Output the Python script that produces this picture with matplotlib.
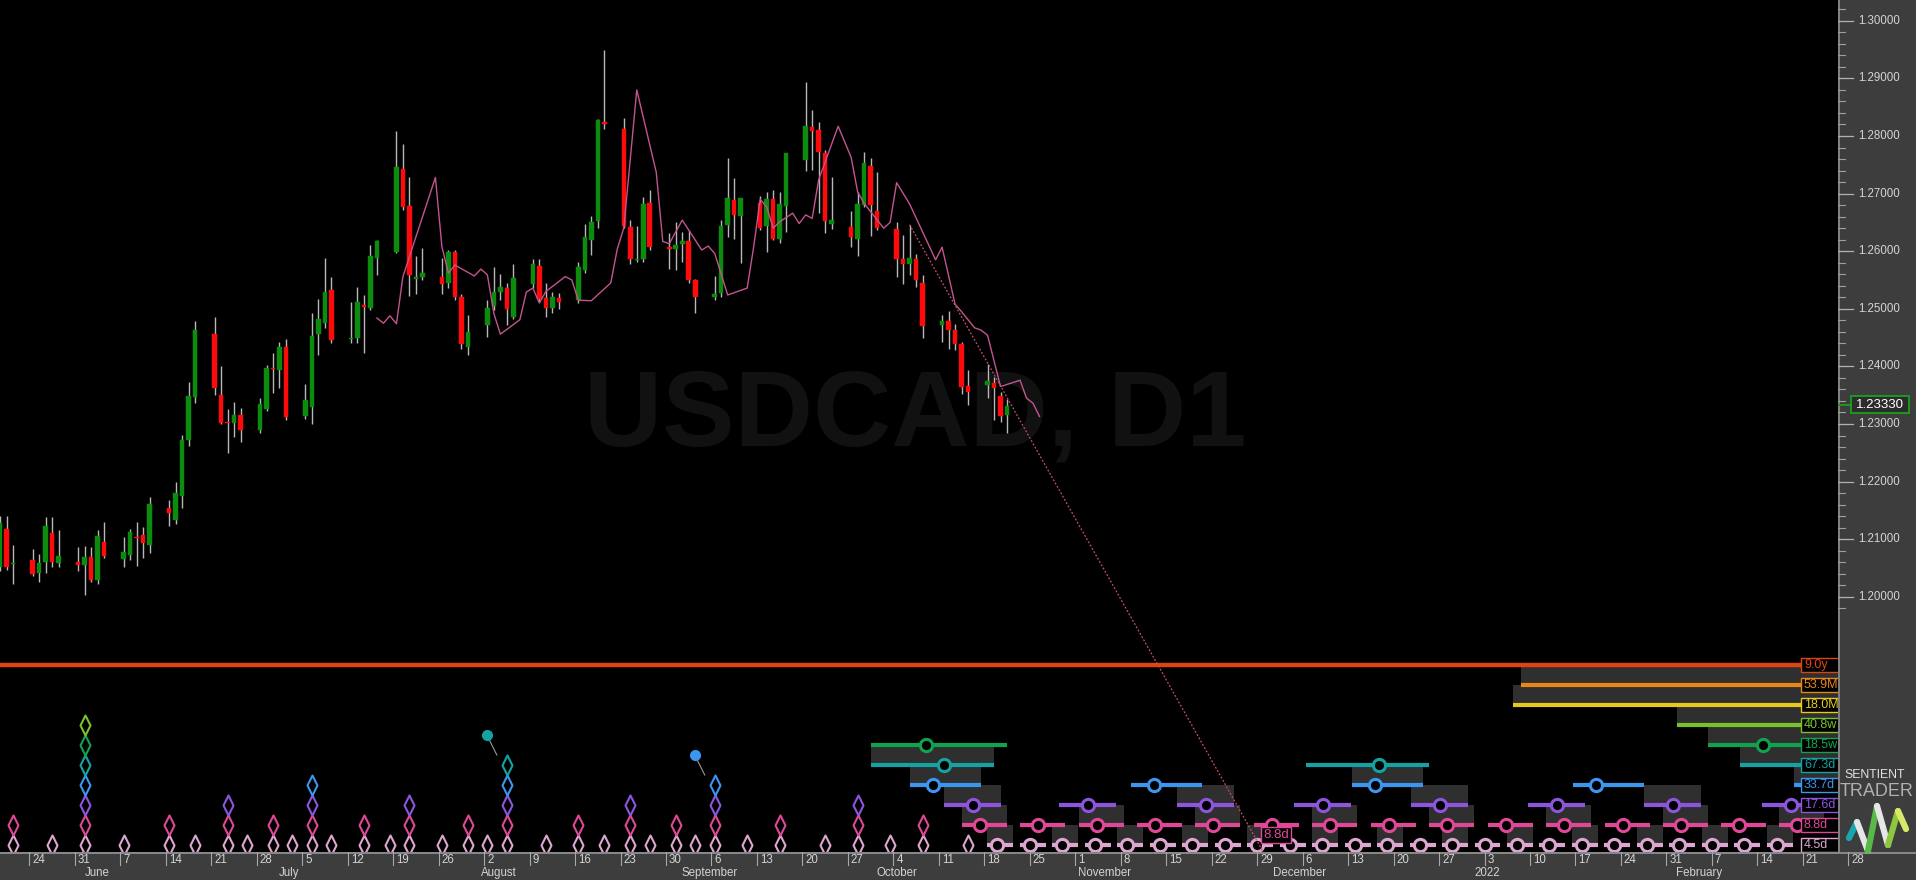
import numpy as np
import pandas as pd
import matplotlib
matplotlib.use("Agg")
import matplotlib.pyplot as plt
import matplotlib.dates as mdates
from matplotlib.patches import Rectangle
from matplotlib.path import Path
from matplotlib import font_manager

plt.rcParams['font.family'] = ['Liberation Sans', 'DejaVu Sans']

# ------------------------------------------------------------------ data
first_bar = "2021-05-19"          # daily bars, Mon-Fri
opens = [
    1.2052, 1.2117, 1.2057,
    1.2064, 1.2042, 1.2061, 1.2111, 1.2058,
    1.2061, 1.2055, 1.2069, 1.2029, 1.2096,
    1.2065, 1.2073, 1.2103, 1.2107, 1.2090,
    1.2155, 1.2133, 1.2175, 1.2272, 1.2347,
    1.2456, 1.2350, 1.2303, 1.2301, 1.2316,
    1.2290, 1.2326, 1.2396, 1.2394, 1.2433,
    1.2314, 1.2330, 1.2456, 1.2475, 1.2533,
    1.2447, 1.2449, 1.2507, 1.2501, 1.2588,
    1.2599, 1.2742, 1.2679, 1.2551, 1.2556,
    1.2555, 1.2544, 1.2599, 1.2520, 1.2434,
    1.2472, 1.2504, 1.2530, 1.2536, 1.2485,
    1.2543, 1.2574, 1.2518, 1.2501, 1.2518,
    1.2515, 1.2567, 1.2619, 1.2653, 1.2825,
    1.2812, 1.2642, 1.2585, 1.2586, 1.2684,
    1.2608, 1.2603, 1.2613, 1.2617, 1.2550,
    1.2520, 1.2527, 1.2646, 1.2689, 1.2661,
    1.2683, 1.2644, 1.2690, 1.2622, 1.2679,
    1.2758, 1.2816, 1.2810, 1.2770, 1.2648,
    1.2642, 1.2622, 1.2680, 1.2748, 1.2670,
    1.2638, 1.2586, 1.2578, 1.2586, 1.2544,
    1.2472, 1.2479, 1.2464, 1.2439, 1.2366,
    1.2368, 1.2372, 1.2349, 1.2316,
]
highs = [
    1.2140, 1.2140, 1.2090,
    1.2083, 1.2074, 1.2139, 1.2138, 1.2116,
    1.2087, 1.2088, 1.2087, 1.2116, 1.2129,
    1.2103, 1.2117, 1.2129, 1.2122, 1.2174,
    1.2168, 1.2200, 1.2281, 1.2373, 1.2478,
    1.2485, 1.2400, 1.2326, 1.2339, 1.2327,
    1.2345, 1.2402, 1.2423, 1.2443, 1.2447,
    1.2369, 1.2492, 1.2517, 1.2588, 1.2555,
    1.2512, 1.2537, 1.2524, 1.2611, 1.2619,
    1.2808, 1.2786, 1.2729, 1.2592, 1.2605,
    1.2588, 1.2602, 1.2602, 1.2526, 1.2489,
    1.2515, 1.2573, 1.2560, 1.2545, 1.2578,
    1.2586, 1.2586, 1.2545, 1.2530, 1.2527,
    1.2582, 1.2647, 1.2661, 1.2829, 1.2949,
    1.2831, 1.2655, 1.2643, 1.2694, 1.2706,
    1.2632, 1.2651, 1.2634, 1.2636, 1.2551,
    1.2557, 1.2654, 1.2761, 1.2727, 1.2693,
    1.2695, 1.2703, 1.2706, 1.2703, 1.2771,
    1.2894, 1.2846, 1.2825, 1.2776, 1.2729,
    1.2670, 1.2703, 1.2773, 1.2761, 1.2738,
    1.2651, 1.2628, 1.2646, 1.2596, 1.2559,
    1.2489, 1.2497, 1.2474, 1.2443, 1.2394,
    1.2405, 1.2382, 1.2356, 1.2343,
]
lows = [
    1.2045, 1.2047, 1.2023,
    1.2036, 1.2026, 1.2041, 1.2052, 1.2052,
    1.2044, 1.2003, 1.2026, 1.2023, 1.2067,
    1.2052, 1.2064, 1.2054, 1.2067, 1.2076,
    1.2123, 1.2126, 1.2154, 1.2261, 1.2336,
    1.2350, 1.2300, 1.2249, 1.2278, 1.2269,
    1.2284, 1.2323, 1.2353, 1.2362, 1.2307,
    1.2308, 1.2300, 1.2420, 1.2466, 1.2440,
    1.2440, 1.2440, 1.2423, 1.2498, 1.2559,
    1.2597, 1.2672, 1.2522, 1.2526, 1.2550,
    1.2526, 1.2536, 1.2515, 1.2431, 1.2420,
    1.2451, 1.2498, 1.2515, 1.2472, 1.2482,
    1.2536, 1.2512, 1.2486, 1.2492, 1.2499,
    1.2510, 1.2562, 1.2593, 1.2640, 1.2813,
    1.2640, 1.2578, 1.2582, 1.2582, 1.2602,
    1.2569, 1.2567, 1.2582, 1.2545, 1.2492,
    1.2515, 1.2521, 1.2625, 1.2621, 1.2580,
    1.2637, 1.2599, 1.2619, 1.2614, 1.2634,
    1.2740, 1.2741, 1.2666, 1.2631, 1.2638,
    1.2608, 1.2592, 1.2677, 1.2626, 1.2636,
    1.2555, 1.2543, 1.2559, 1.2537, 1.2449,
    1.2443, 1.2431, 1.2429, 1.2352, 1.2333,
    1.2345, 1.2307, 1.2304, 1.2285,
]
closes = [
    1.2128, 1.2052, 1.2059,
    1.2040, 1.2059, 1.2123, 1.2061, 1.2071,
    1.2055, 1.2069, 1.2029, 1.2106, 1.2070,
    1.2078, 1.2113, 1.2102, 1.2093, 1.2161,
    1.2145, 1.2181, 1.2273, 1.2349, 1.2463,
    1.2362, 1.2302, 1.2301, 1.2316, 1.2290,
    1.2335, 1.2398, 1.2395, 1.2434, 1.2312,
    1.2342, 1.2453, 1.2482, 1.2530, 1.2446,
    1.2449, 1.2512, 1.2503, 1.2591, 1.2617,
    1.2746, 1.2677, 1.2559, 1.2556, 1.2562,
    1.2543, 1.2599, 1.2520, 1.2439, 1.2460,
    1.2501, 1.2530, 1.2538, 1.2499, 1.2553,
    1.2578, 1.2517, 1.2501, 1.2520, 1.2512,
    1.2573, 1.2624, 1.2651, 1.2827, 1.2821,
    1.2644, 1.2586, 1.2587, 1.2682, 1.2608,
    1.2603, 1.2611, 1.2617, 1.2550, 1.2520,
    1.2526, 1.2644, 1.2692, 1.2663, 1.2692,
    1.2640, 1.2690, 1.2622, 1.2682, 1.2770,
    1.2817, 1.2809, 1.2773, 1.2653, 1.2654,
    1.2625, 1.2682, 1.2753, 1.2680, 1.2640,
    1.2586, 1.2578, 1.2588, 1.2550, 1.2470,
    1.2478, 1.2464, 1.2439, 1.2365, 1.2356,
    1.2375, 1.2362, 1.2314, 1.2331,
]

fld_dates = ["2021-07-16", "2021-07-17", "2021-07-18", "2021-07-19", "2021-07-20",
             "2021-07-25", "2021-07-26", "2021-07-27", "2021-07-28", "2021-07-31",
             "2021-08-01", "2021-08-02", "2021-08-03", "2021-08-04", "2021-08-07",
             "2021-08-08", "2021-08-09", "2021-08-10", "2021-08-11", "2021-08-14",
             "2021-08-15", "2021-08-16", "2021-08-18", "2021-08-21", "2021-08-22",
             "2021-08-23", "2021-08-25", "2021-08-28", "2021-08-29", "2021-08-30",
             "2021-09-01", "2021-09-04", "2021-09-05", "2021-09-06", "2021-09-08",
             "2021-09-11", "2021-09-12", "2021-09-13", "2021-09-14", "2021-09-15",
             "2021-09-16", "2021-09-18", "2021-09-19", "2021-09-20", "2021-09-21",
             "2021-09-22", "2021-09-25", "2021-09-27", "2021-09-28", "2021-09-29",
             "2021-10-02", "2021-10-03", "2021-10-04", "2021-10-06", "2021-10-10",
             "2021-10-11", "2021-10-13", "2021-10-14", "2021-10-16", "2021-10-17",
             "2021-10-18", "2021-10-20", "2021-10-23", "2021-10-24", "2021-10-25",
             "2021-10-26"]
fld_values = [1.2484, 1.2475, 1.2488, 1.2474, 1.2556, 1.2728, 1.2608, 1.2562, 1.2576, 1.2557,
              1.2569, 1.2559, 1.2492, 1.2456, 1.2481, 1.2529, 1.2536, 1.2510, 1.2530, 1.2556,
              1.2550, 1.2515, 1.2514, 1.2545, 1.2604, 1.2640, 1.2880, 1.2737, 1.2617, 1.2613,
              1.2654, 1.2602, 1.2609, 1.2596, 1.2524, 1.2536, 1.2608, 1.2690, 1.2677, 1.2640,
              1.2651, 1.2666, 1.2648, 1.2663, 1.2657, 1.2724, 1.2817, 1.2763, 1.2703, 1.2683,
              1.2640, 1.2650, 1.2719, 1.2682, 1.2585, 1.2607, 1.2508, 1.2495, 1.2467, 1.2463,
              1.2454, 1.2365, 1.2376, 1.2345, 1.2336, 1.2313]

trend_dates = ["2021-10-06 12:00", "2021-12-01 12:00"]
trend_values = [1.2646, 1.1526]

last_price = 1.23330
price_ticks = [1.20, 1.21, 1.22, 1.23, 1.24, 1.25, 1.26, 1.27, 1.28, 1.29, 1.30]

# cycles (row 0 = shortest)
cycle_labels = ["4.5d", "8.8d", "17.6d", "33.7d", "67.3d", "18.5w", "40.8w", "18.0M", "53.9M", "9.0y"]
cycle_colors = ["#dca6cf", "#de4897", "#8d55de", "#3a96f0", "#13a3a3", "#12a24e",
                "#79c12a", "#e6c91f", "#e8861a", "#dc4414"]

trough_dates = ["2021-05-21", "2021-05-27", "2021-06-01", "2021-06-07", "2021-06-14", "2021-06-18",
                "2021-06-23", "2021-06-26", "2021-06-30", "2021-07-03", "2021-07-06", "2021-07-09",
                "2021-07-14", "2021-07-18", "2021-07-21", "2021-07-26", "2021-07-30", "2021-08-02",
                "2021-08-05", "2021-08-11", "2021-08-16", "2021-08-20", "2021-08-24", "2021-08-27",
                "2021-08-31", "2021-09-03", "2021-09-06", "2021-09-11", "2021-09-16", "2021-09-23",
                "2021-09-28", "2021-10-03", "2021-10-08", "2021-10-15"]
trough_levels = [2, 1, 7, 1, 2, 1, 3, 1, 2, 1, 4, 1, 2, 1, 3, 1, 2, 1, 5, 1, 2, 1, 3, 1,
                 2, 1, 4, 1, 2, 1, 3, 1, 2, 1]
peak_dot_troughs = ["2021-08-05", "2021-09-06"]

ring_dates = {
    0: ["2021-10-20", "2021-10-25", "2021-10-30", "2021-11-04", "2021-11-09", "2021-11-14",
        "2021-11-19", "2021-11-24", "2021-11-29", "2021-12-04", "2021-12-09", "2021-12-14",
        "2021-12-19", "2021-12-24", "2021-12-29", "2022-01-03", "2022-01-08", "2022-01-13",
        "2022-01-18", "2022-01-23", "2022-01-28", "2022-02-02", "2022-02-07", "2022-02-12",
        "2022-02-17"],
    1: ["2021-10-17 08:00", "2021-10-26 07:00", "2021-11-04 07:00", "2021-11-13 07:00",
        "2021-11-22 06:00", "2021-12-01 06:00", "2021-12-10 05:00", "2021-12-19 08:00",
        "2021-12-28 06:00", "2022-01-06 06:00", "2022-01-15 07:00", "2022-01-24 09:00",
        "2022-02-02 06:00", "2022-02-11 05:00", "2022-02-20 04:00"],
    2: ["2021-10-16 05:00", "2021-11-03 00:00", "2021-11-21 03:00", "2021-12-09 02:00",
        "2021-12-27 04:00", "2022-01-14 03:00", "2022-02-01 01:00", "2022-02-19 03:00"],
    3: ["2021-10-10 04:00", "2021-11-13 03:00", "2021-12-17 03:00", "2022-01-20 04:00",
        "2022-02-23 04:00"],
    4: ["2021-10-11 20:00", "2021-12-17 19:00", "2022-02-22 17:00"],
    5: ["2021-10-09 00:00", "2022-02-14 22:00"],
}
ring_boxes = {
    0: [True, False] * 12 + [True],
    1: [True, False] * 7 + [True],
    2: [True, False] * 4,
    3: [True, False, True, False, True],
    4: [True, False, True],
    5: [False, True],
}
band_before = [1.54, 2.77, 4.46, 3.54, 11.33, 8.51]   # days before projected trough
band_after = [2.46, 4.16, 4.31, 7.39, 7.70, 12.52]    # days after projected trough
long_cycle_starts = {6: "2022-02-01 14:00", 7: "2022-01-07 10:00", 8: "2022-01-08 14:00"}
hover_text, hover_date = "8.8d", "2021-12-01 21:00"

month_starts = ["2021-06-01", "2021-07-01", "2021-08-01", "2021-09-01", "2021-10-01",
                "2021-11-01", "2021-12-01", "2022-01-01", "2022-02-01"]
month_names = ["June", "July", "August", "September", "October", "November", "December",
               "2022", "February"]
week_starts = pd.date_range("2021-05-24", "2022-02-28", freq="W-MON")

# ------------------------------------------------------------------ layout
W, H = 1916, 880
PLOT_H, STRIP_H = 852, 28
PX_PER_DAY = 6.496
ORIGIN_PX = 29.4                   # px of 2021-05-24 00:00
PX_PER_PRICE = 5760.0
REF_PRICE, REF_PX = 1.23, 424.0
ROW_PX = 20.0
ROW0_PX = 845.0
BG = "black"
PANEL = "#3d3d3d"
BOXC = "#2f2f2f"
TXT = "#d4d4d4"

names = {f.name for f in font_manager.fontManager.ttflist}
narrow = "Liberation Sans Narrow" if "Liberation Sans Narrow" in names else "Liberation Sans"


def xd(v):
    return mdates.date2num(pd.to_datetime(v))


x_left = xd("2021-05-24") - ORIGIN_PX / PX_PER_DAY
x_right = x_left + W / PX_PER_DAY
y_top = REF_PRICE + REF_PX / PX_PER_PRICE
y_bot = REF_PRICE - (PLOT_H - REF_PX) / PX_PER_PRICE
row_bot = -(PLOT_H - ROW0_PX) / ROW_PX
row_top = row_bot + PLOT_H / ROW_PX

fig = plt.figure(figsize=(W / 100, H / 100), dpi=100, facecolor=BG)
rect = [0, STRIP_H / H, 1, PLOT_H / H]


def clean(a):
    for s in a.spines.values():
        s.set_visible(False)
    a.set_xticks([])
    a.set_yticks([])


ax = fig.add_axes(rect, zorder=0)
ax.set_facecolor(BG)
clean(ax)
ax.set_xlim(x_left, x_right)
ax.set_ylim(y_bot, y_top)

# watermark
ax.text(915 / W, 1 - 417 / PLOT_H, "USDCAD, D1", transform=ax.transAxes, ha="center",
        va="center", fontsize=78, fontweight="bold", color="#111111", zorder=0.5,
        family=["Liberation Sans", "DejaVu Sans"])

# candles
dates = pd.bdate_range(first_bar, periods=len(opens))
xs = mdates.date2num(dates) + 0.5
o, h, l, c = map(np.asarray, (opens, highs, lows, closes))
ax.vlines(xs, l, h, color="#b8b8b8", lw=1.0, zorder=2)
bb = np.minimum(o, c)
bh = np.maximum(np.abs(c - o), 0.00022)
cols = np.where(c >= o, "#0c8c0c", "#ff0a0a")
ax.bar(xs, bh, bottom=bb, width=0.7, color=cols, edgecolor=cols, linewidth=0.3, zorder=3)

# FLD line
ax.plot(xd(fld_dates) + 0.5, fld_values, color="#c2558f", lw=1.0, zorder=4)

# ------------------------------------------------------------------ cycle overlay
axc = fig.add_axes(rect, zorder=1)
axc.set_facecolor("none")
clean(axc)
axc.set_xlim(x_left, x_right)
axc.set_ylim(row_bot, row_top)

# 9.0y line
axc.plot([x_left, x_right], [9, 9], color=cycle_colors[9], lw=3.2, solid_capstyle="butt", zorder=2)

# long cycles
for k, s in long_cycle_starts.items():
    x0 = xd(s)
    axc.add_patch(Rectangle((x0, k), x_right - x0, 1, fc=BOXC, ec="none", zorder=1))
for k, s in long_cycle_starts.items():
    x0 = xd(s)
    axc.plot([x0, x_right], [k, k], color=cycle_colors[k], lw=3, solid_capstyle="butt", zorder=2)

# projected troughs
for k, rds in ring_dates.items():
    for rd, box in zip(rds, ring_boxes[k]):
        xr = xd(rd)
        x0, x1 = xr - band_before[k], xr + band_after[k]
        if box:
            axc.add_patch(Rectangle((x0, k), x1 - x0, 1, fc=BOXC, ec="none", zorder=1))
for k, rds in ring_dates.items():
    for rd in rds:
        xr = xd(rd)
        x0, x1 = xr - band_before[k], xr + band_after[k]
        axc.plot([x0, x1], [k, k], color=cycle_colors[k], lw=3, solid_capstyle="butt", zorder=2)
        axc.plot([xr], [k], marker="o", ms=8.8, mfc="black", mec=cycle_colors[k], mew=2.2,
                 ls="none", zorder=3)

# past troughs (diamond stacks)
diamond = Path([(0, -1), (0.5, 0), (0, 1), (-0.5, 0), (0, -1)],
               [Path.MOVETO, Path.LINETO, Path.LINETO, Path.LINETO, Path.CLOSEPOLY])
tx = xd(trough_dates) + 0.5
for k in range(10):
    sel = [x for x, n in zip(tx, trough_levels) if n > k]
    if sel:
        axc.plot(sel, [k] * len(sel), marker=diamond, ms=14.4, mfc="none",
                 mec=cycle_colors[k], mew=1.5, ls="none", zorder=3)

# peak dots
for td in peak_dot_troughs:
    n = trough_levels[trough_dates.index(td)]
    top = n - 1
    xt = xd(td) + 0.5
    xdot = xt - 20 / PX_PER_DAY
    axc.plot([xdot, xt - 10 / PX_PER_DAY], [top + 1.5, top + 0.5], color="#9a9a9a", lw=0.8, zorder=3)
    axc.plot([xdot], [top + 1.5], marker="o", ms=7, color=cycle_colors[top], ls="none", zorder=4)

# hover label
axc.text(xd(hover_date), 0.5, hover_text, ha="center", va="center", fontsize=9.5,
         color=cycle_colors[1], zorder=7,
         bbox=dict(boxstyle="square,pad=0.15", fc="black", ec=cycle_colors[1], lw=1))

# trend line
axc.plot(xd(trend_dates), trend_values, transform=ax.transData, color="#c8506e",
         lw=0.9, ls=(0, (1.5, 1.5)), zorder=8)

# cycle labels
ytr = axc.get_yaxis_transform()
for k, (lab, col) in enumerate(zip(cycle_labels, cycle_colors)):
    axc.add_patch(Rectangle((1801 / W, k - 0.33), 48 / W, 0.66, transform=ytr,
                            fc="black", ec=col, lw=1, zorder=6))
    axc.text(1804 / W, k, lab, transform=ytr, ha="left", va="center", fontsize=9,
             color=col, zorder=7)

# ------------------------------------------------------------------ right price panel
axr = fig.add_axes([1838 / W, STRIP_H / H, 78 / W, PLOT_H / H], zorder=3)
axr.set_facecolor(PANEL)
clean(axr)
axr.set_xlim(0, 78)
axr.set_ylim(y_bot, y_top)
axr.axvline(0.6, color="#8e8e8e", lw=1.2)
for p in np.arange(1.198, 1.3025, 0.002):
    axr.plot([0, 7], [p, p], color="#a0a0a0", lw=0.8)
for p in price_ticks:
    axr.plot([0, 15], [p, p], color="#b0b0b0", lw=0.9)
    axr.text(20, p, f"{p:.5f}", ha="left", va="center", fontsize=8.3, color=TXT)
bh_px = 8.5 / PX_PER_PRICE
axr.plot([0, 13], [last_price, last_price], color="#1aa01a", lw=1.3)
axr.add_patch(Rectangle((13, last_price - bh_px), 58, 2 * bh_px, fc="#2c2c2c", ec="#1aa01a", lw=1.3))
axr.text(42, last_price, f"{last_price:.5f}", ha="center", va="center", fontsize=9.5, color="white")

# ------------------------------------------------------------------ bottom date strip
axb = fig.add_axes([0, 0, 1, STRIP_H / H], zorder=3)
axb.set_facecolor(PANEL)
clean(axb)
axb.set_xlim(x_left, x_right)
axb.set_ylim(0, STRIP_H)
axb.axhline(STRIP_H - 0.6, color="#969696", lw=1.2)
for wdt in week_starts:
    x = xd(wdt)
    axb.plot([x, x], [STRIP_H, STRIP_H - 13], color="#a8a8a8", lw=0.8)
    axb.text(x + 3 / PX_PER_DAY, STRIP_H - 8, str(wdt.day), ha="left", va="center",
             fontsize=8.3, color=TXT, family=[narrow, "DejaVu Sans"])
for ms, name in zip(month_starts, month_names):
    axb.text(xd(ms) + 3 / PX_PER_DAY, 7, name, ha="left", va="center", fontsize=8.3,
             color=TXT, family=[narrow, "DejaVu Sans"])

# ------------------------------------------------------------------ logo
axl = fig.add_axes([0, 0, 1, 1], zorder=5)
axl.set_xlim(0, W)
axl.set_ylim(H, 0)
axl.axis("off")
axl.text(1875, 775, "SENTIENT", ha="center", va="center", fontsize=8.8, color="#e2e2e2")
axl.text(1877, 791, "TRADER", ha="center", va="center", fontsize=13, color="#b0b0b0",
         family=["Liberation Sans", "DejaVu Sans"])
logo_x = [1849, 1857, 1868, 1877, 1888, 1898, 1906]
logo_y = [838, 822, 851, 806, 845, 811, 829]
logo_c = ["#1aa6b0", "#e6e6e6", "#58b848", "#e6e6e6", "#8cc63f", "#d8e86a"]
for i in range(len(logo_c)):
    axl.plot(logo_x[i:i + 2], logo_y[i:i + 2], color=logo_c[i], lw=4.5, solid_capstyle="round")

fig.savefig("out.png", dpi=100, facecolor=BG)
